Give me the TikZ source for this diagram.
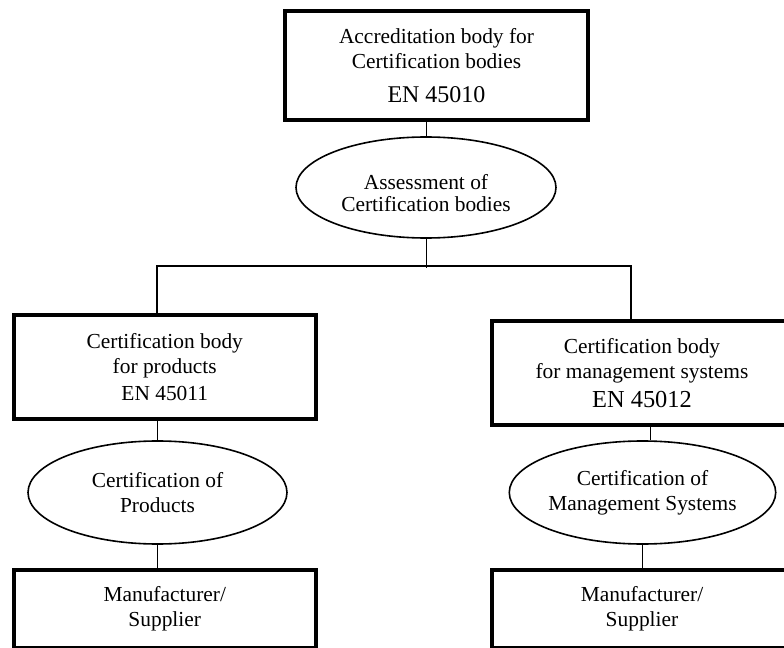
\documentclass[tikz,border=0pt]{standalone}
\usepackage{fontspec}
\setmainfont{Liberation Serif}
\usetikzlibrary{shapes.geometric}
\begin{document}
\begin{tikzpicture}[
			x=0.5pt, y=-0.5pt,
			font=\fontsize{10.7}{12.5}\selectfont,
			body/.style={draw, rectangle, line width=2pt, align=center, inner sep=0pt},
			activity/.style={draw, ellipse, line width=0.8pt, align=center, inner sep=0pt, minimum width=129.5pt, minimum height=51.5pt},
			link/.style={line width=0.5pt},
			branch/.style={line width=1pt}
			]
			\useasboundingbox (0,0) rectangle (784,648);
			\node[body, minimum width=151.75pt, minimum height=54.25pt] (acc) at (436.5,65.5) {Accreditation body for\\Certification bodies\\[4.5pt]{\fontsize{12}{12.5}\selectfont EN 45010}};
			\node[activity, minimum width=130pt, minimum height=50.5pt, font=\fontsize{10.7}{10.8}\selectfont] (assess) at (426,187.5) {\rule{0pt}{13pt}Assessment of\\Certification bodies};
			\node[body, minimum width=150.75pt, minimum height=51.75pt] (prod) at (164.75,366.75) {Certification body\\for products\\[1pt]EN 45011};
			\node[body, minimum width=150pt, minimum height=52.25pt] (mgmt) at (642,372.75) {Certification body\\for management systems\\[2pt]{\fontsize{12.2}{12.5}\selectfont EN 45012}};
			\node[activity] (certp) at (157.5,492.5) {Certification of\\Products};
			\node[activity] (certm) at (642.5,492.5) {Certification of\\Management Systems};
			\node[body, minimum width=150.75pt, minimum height=39pt] (manl) at (164.75,609) {Manufacturer/\\Supplier};
			\node[body, minimum width=150pt, minimum height=39pt] (manr) at (642,608.5) {Manufacturer/\\Supplier};
			\coordinate (bl) at (157,266);
			\coordinate (br) at (631,266);
			\coordinate (tick) at (426,267.5);
			\draw[link] (assess.north) -- (assess.north |- acc.south);
			\draw[link] (assess.south) -- (tick);
			\draw[branch] (bl |- prod.north) -- (bl) -- (br) -- (br |- mgmt.north);
			\draw[link] (certp.north) -- (certp.north |- prod.south);
			\draw[link] (certp.south) -- (certp.south |- manl.north);
			\draw[link] (certm.81) -- (certm.81 |- mgmt.south);
			\draw[link] (certm.south) -- (certm.south |- manr.north);
\end{tikzpicture}
\end{document}
